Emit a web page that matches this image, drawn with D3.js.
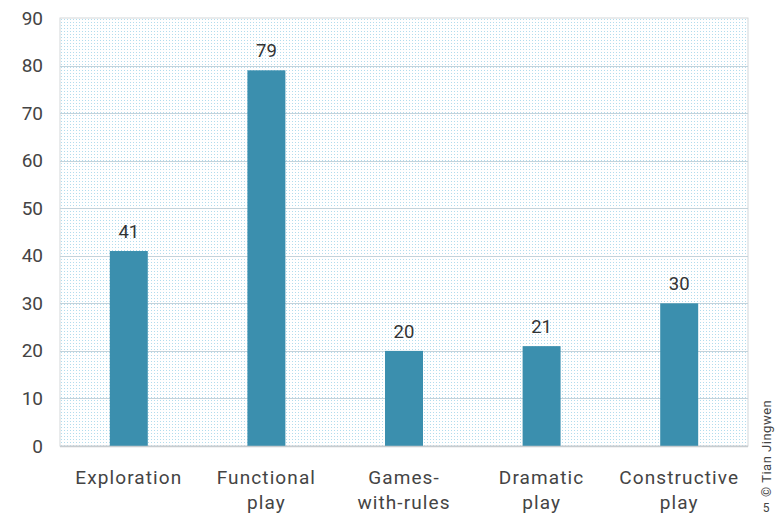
<!DOCTYPE html>
<html>
<head>
<meta charset="utf-8">
<script src="https://cdn.jsdelivr.net/npm/d3@7"></script>
<style>
  html, body { margin: 0; padding: 0; background: #fff; }
  svg { display: block; font-family: "Roboto", "Open Sans", sans-serif; }
</style>
</head>
<body>
<svg id="chart" width="783" height="517"></svg>
<script>
// Types of play observed (counts)
const categories = [["Exploration"], ["Functional", "play"], ["Games-", "with-rules"], ["Dramatic", "play"], ["Constructive", "play"]];
const values = [41, 79, 20, 21, 30];
const yTicks = [0, 10, 20, 30, 40, 50, 60, 70, 80, 90];
const credit = "© Tian Jingwen";
const pageNumber = "5";

const svg = d3.select("#chart");
const margin = { left: 60, right: 35, top: 18, bottom: 71 };
const W = 783, H = 517;

const x = d3.scaleBand()
  .domain(d3.range(values.length))
  .range([margin.left, W - margin.right])
  .paddingInner(0.724)
  .paddingOuter(0.362);

const y = d3.scaleLinear().domain([0, 90]).range([H - margin.bottom, margin.top]);

// dotted fill for the plotting area
const defs = svg.append("defs");
const pat = defs.append("pattern")
  .attr("id", "dots").attr("patternUnits", "userSpaceOnUse")
  .attr("width", 3).attr("height", 3);
pat.append("rect").attr("width", 3).attr("height", 3).attr("fill", "#ffffff");
pat.append("rect").attr("x", 1).attr("y", 1).attr("width", 1).attr("height", 1).attr("fill", "#b2dced");

svg.append("rect")
  .attr("x", margin.left).attr("y", y(90))
  .attr("width", W - margin.right - margin.left)
  .attr("height", y(0) - y(90))
  .attr("fill", "url(#dots)")
  .attr("stroke", "#d3d7da").attr("stroke-width", 1);

// horizontal gridlines
svg.append("g").selectAll("line")
  .data(yTicks.filter(t => t > 0 && t < 90))
  .join("line")
  .attr("x1", margin.left).attr("x2", W - margin.right)
  .attr("y1", d => Math.round(y(d)) + 0.5).attr("y2", d => Math.round(y(d)) + 0.5)
  .attr("stroke", "#c3d3db").attr("stroke-width", 1);

// y axis labels
const yAxis = svg.append("g")
  .attr("transform", `translate(${margin.left},0)`)
  .call(d3.axisLeft(y).tickValues(yTicks).tickSize(0).tickPadding(17));
yAxis.select(".domain").remove();
yAxis.selectAll("text").attr("font-size", 19).attr("fill", "#444").attr("font-family", "Roboto, sans-serif");

// bars
svg.append("g").selectAll("rect")
  .data(values)
  .join("rect")
  .attr("x", (d, i) => x(i))
  .attr("y", d => y(d))
  .attr("width", x.bandwidth())
  .attr("height", d => y(0) - y(d))
  .attr("fill", "#3b8fae");

// value labels
svg.append("g").selectAll("text")
  .data(values)
  .join("text")
  .attr("x", (d, i) => x(i) + x.bandwidth() / 2)
  .attr("y", d => y(d) - 13)
  .attr("text-anchor", "middle")
  .attr("font-size", 18.5)
  .attr("fill", "#333")
  .text(d => d);

// baseline
svg.append("line")
  .attr("x1", margin.left).attr("x2", W - margin.right)
  .attr("y1", y(0) + 0.5).attr("y2", y(0) + 0.5)
  .attr("stroke", "#c8cccf").attr("stroke-width", 1.5);

// category labels
const cat = svg.append("g").selectAll("text")
  .data(categories)
  .join("text")
  .attr("x", (d, i) => x(i) + x.bandwidth() / 2)
  .attr("y", y(0) + 38)
  .attr("text-anchor", "middle")
  .attr("font-size", 19)
  .attr("fill", "#444")
  .attr("letter-spacing", 1.1);
cat.selectAll("tspan")
  .data(d => d)
  .join("tspan")
  .attr("x", function () { return d3.select(this.parentNode).attr("x"); })
  .attr("dy", (d, i) => i === 0 ? 0 : 25)
  .text(d => d);

// credit line, rotated along the right edge
svg.append("text")
  .attr("transform", `translate(771, 497) rotate(-90)`)
  .attr("font-size", 13)
  .attr("letter-spacing", 0.5)
  .attr("fill", "#444")
  .text(credit);
svg.append("text")
  .attr("x", 766).attr("y", 512)
  .attr("text-anchor", "middle")
  .attr("font-size", 12)
  .attr("fill", "#444")
  .text(pageNumber);
</script>
</body>
</html>
